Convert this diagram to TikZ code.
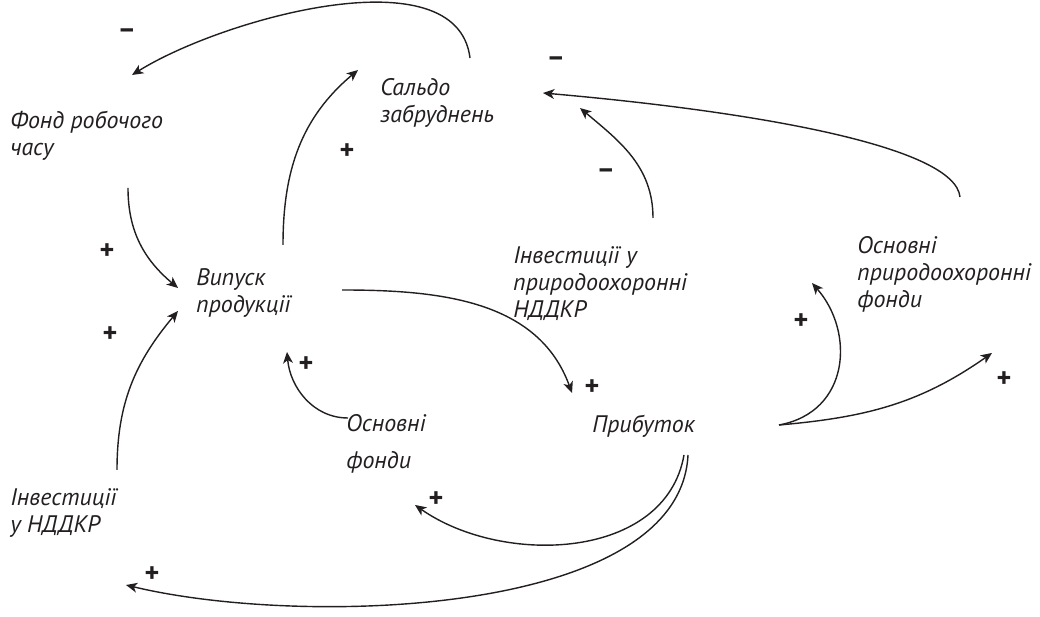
\documentclass[tikz,border=0pt]{standalone}
\usepackage{fontspec}
\setmainfont{PT Sans}
\usetikzlibrary{arrows.meta, calc}
\definecolor{cldark}{HTML}{231F20}

\begin{document}
\begin{tikzpicture}[x=0.025cm, y=0.025cm,
    lbl/.style={anchor=north west, inner sep=0pt, align=left,
        font=\fontsize{17}{19.2}\selectfont\itshape, text=cldark},
    sgn/.style={inner sep=0pt, font=\fontsize{20}{20}\selectfont\bfseries, text=cldark},
    link/.style={draw=cldark, line width=1pt,
        -{Stealth[length=8pt, width=7pt, inset=2.2pt]}}]
    \useasboundingbox (0,0) rectangle (1040,617);
    \node[lbl] (saldo) at (380,539) {Сальдо\\забруднень};
    \node[lbl] (fond) at (10,506) {Фонд робочого\\часу};
    \node[lbl] (vyp) at (196,349) {Випуск\\продукції};
    \node[lbl] (invnat) at (513,371) {Інвестиції у\\природоохоронні\\НДДКР};
    \node[lbl] (ofnat) at (857,381) {Основні\\природоохоронні\\фонди};
    \node[lbl] (of) at (346,203) {Основні\\[7pt]фонди};
    \node[lbl] (prib) at (592,202) {Прибуток};
    \node[lbl] (invrd) at (10,129) {Інвестиції\\у НДДКР};
    \coordinate (ofnatin) at ([shift={(-45,-47)}]ofnat.north west);

    \draw[link] ([shift={(90,20)}]saldo.north west) to[out=97, in=32, looseness=0.8] ([shift={(122,36)}]fond.north west);
    \draw[link] ([shift={(87,23)}]vyp.north west) to[out=90, in=220] ([shift={(-22,8)}]saldo.north west);
    \draw[link] ([shift={(118,-77)}]fond.north west) to[out=270, in=140] ([shift={(-18,-20)}]vyp.north west);
    \draw[link] ([shift={(107,18)}]invrd.north west) to[out=90, in=230] ([shift={(-18,-43)}]vyp.north west);
    \draw[link] ([shift={(146,-22)}]vyp.north west) to[out=0, in=110] ([shift={(-20,22)}]prib.north west);
    \draw[link] ([shift={(140,28)}]invnat.north west) to[out=90, in=320] ([shift={(200,-30)}]saldo.north west);
    \draw[link] ([shift={(103,39)}]ofnat.north west) .. controls (955,470) and (760,505) .. ([shift={(163,-15)}]saldo.north west);
    \draw[link] ([shift={(2,-4)}]of.north west) to[out=180, in=275] ([shift={(91,-84)}]vyp.north west);
    \draw[link] ([shift={(187,-10)}]prib.north west) .. controls (850,205) and (855,285) .. (ofnatin);
    \draw[link] ([shift={(187,-10)}]prib.north west) to[out=5, in=215] ([shift={(135,-117)}]ofnat.north west);
    \draw[link] ([shift={(92,-40)}]prib.north west) to[out=-100, in=325] ([shift={(69,-91)}]of.north west);
    \draw[link] ([shift={(96,-40)}]prib.north west) .. controls (680,0) and (300,-10) .. ([shift={(116,-97)}]invrd.north west);

    \node[sgn] (s1) at (127,583) {–};
    \node[sgn] (s2) at (347,465) {+};
    \node[sgn] (s3) at (107,365) {+};
    \node[sgn] (s4) at (110,282) {+};
    \node[sgn] (s5) at (592,229) {+};
    \node[sgn] (s6) at (606,443) {–};
    \node[sgn] (s7) at (556,555) {–};
    \node[sgn] (s8) at (306,252) {+};
    \node[sgn] (s9) at (801,295) {+};
    \node[sgn] (s10) at (1004,237) {+};
    \node[sgn] (s11) at (436,117) {+};
    \node[sgn] (s12) at (152,42) {+};
\end{tikzpicture}
\end{document}
